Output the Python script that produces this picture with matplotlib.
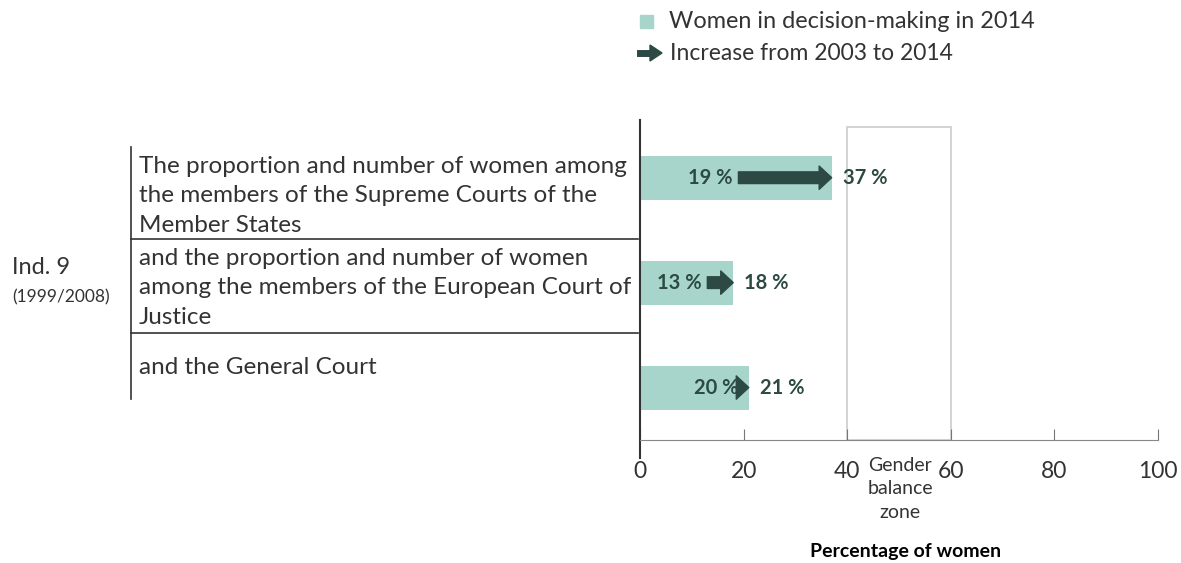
import matplotlib.pyplot as plt
from matplotlib.lines import Line2D
from matplotlib.patches import Rectangle

rows = [
    "The proportion and number of women among\nthe members of the Supreme Courts of the\nMember States",
    "and the proportion and number of women\namong the members of the European Court of\nJustice",
    "and the General Court",
]
start_2003 = [19, 13, 20]
women_2014 = [37, 18, 21]
xticks = [0, 20, 40, 60, 80, 100]

BAR = "#a8d5cb"
DARK = "#2c4a43"
TXT = "#333333"

plt.rcParams["font.family"] = ["Lato", "DejaVu Sans"]

W, H = 1181, 563
fig = plt.figure(figsize=(W / 100, H / 100), dpi=100)
ax = fig.add_axes([640 / W, 1 - 440 / H, (1158 - 640) / W, (440 - 120) / H])

ypos = list(range(len(rows)))
ax.barh(ypos, women_2014, height=0.42, color=BAR, zorder=2)
for y, a, b in zip(ypos, start_2003, women_2014):
    ax.annotate("", xy=(b, y), xytext=(a, y),
                arrowprops=dict(arrowstyle="simple,head_width=1.4,head_length=0.75,tail_width=0.7",
                                color=DARK, shrinkA=0, shrinkB=0, mutation_scale=12),
                zorder=3)
    ax.annotate(f"{a} %", xy=(a, y), xytext=(-4, 0), textcoords="offset points",
                ha="right", va="center", fontsize=14.5, fontweight="bold", color=DARK)
    ax.annotate(f"{b} %", xy=(b, y), xytext=(8, 0), textcoords="offset points",
                ha="left", va="center", fontsize=14.5, fontweight="bold", color=DARK)

# gender balance zone
ax.add_patch(Rectangle((40, 2.5), 20, -2.98, fill=False, edgecolor="#cccccc", lw=1.2, zorder=1))

ax.set_xlim(0, 100)
ax.set_ylim(2.5, -0.55)
ax.set_yticks([])
ax.set_xticks(xticks)
ax.set_xticklabels([str(t) for t in xticks], fontsize=16.5, color=TXT)
ax.tick_params(axis="x", direction="in", length=8, color="#777777", pad=15)
for s in ["top", "right"]:
    ax.spines[s].set_visible(False)
ax.spines["bottom"].set_color("#888888")
ax.spines["left"].set_color("#333333")
ax.spines["left"].set_linewidth(1.5)
ax.spines["left"].set_bounds(2.67, -0.55)

fig.text(900 / W, 1 - 489 / H, "Gender\nbalance\nzone", ha="center", va="center",
         fontsize=14, color=TXT, linespacing=1.45)
fig.text(906 / W, 1 - 552 / H, "Percentage of women", ha="center", va="center",
         fontsize=14, fontweight="bold", color="black")

# left-hand table
fig.add_artist(Line2D([131 / W, 131 / W], [1 - 147 / H, 1 - 399 / H], color="#333333", lw=1.2))
for yy in [239, 333]:
    fig.add_artist(Line2D([131 / W, 638 / W], [1 - yy / H, 1 - yy / H], color="#333333", lw=1.2))
for txt, yc in zip(rows, [196, 288, 367]):
    fig.text(139 / W, 1 - yc / H, txt, ha="left", va="center", fontsize=17.5,
             color=TXT, linespacing=1.5)
fig.text(12 / W, 1 - 268 / H, "Ind. 9", ha="left", va="center", fontsize=17, color=TXT)
fig.text(12 / W, 1 - 297 / H, "(1999/2008)", ha="left", va="center", fontsize=12.5, color=TXT)

# legend
fig.add_artist(Rectangle((640 / W, 1 - 28 / H), 13 / W, 13 / H, color=BAR))
fig.text(669 / W, 1 - 21 / H, "Women in decision-making in 2014", ha="left", va="center",
         fontsize=16.9, color=TXT)
fig.add_artist(Line2D([640 / W, 652 / W], [1 - 53 / H] * 2, color=DARK, lw=5))
fig.add_artist(plt.Polygon([[650 / W, 1 - 45 / H], [662 / W, 1 - 53 / H], [650 / W, 1 - 61 / H]],
                           closed=True, color=DARK))
fig.text(670 / W, 1 - 53 / H, "Increase from 2003 to 2014", ha="left", va="center",
         fontsize=16.5, color=TXT)

fig.savefig("out.png", dpi=100)
